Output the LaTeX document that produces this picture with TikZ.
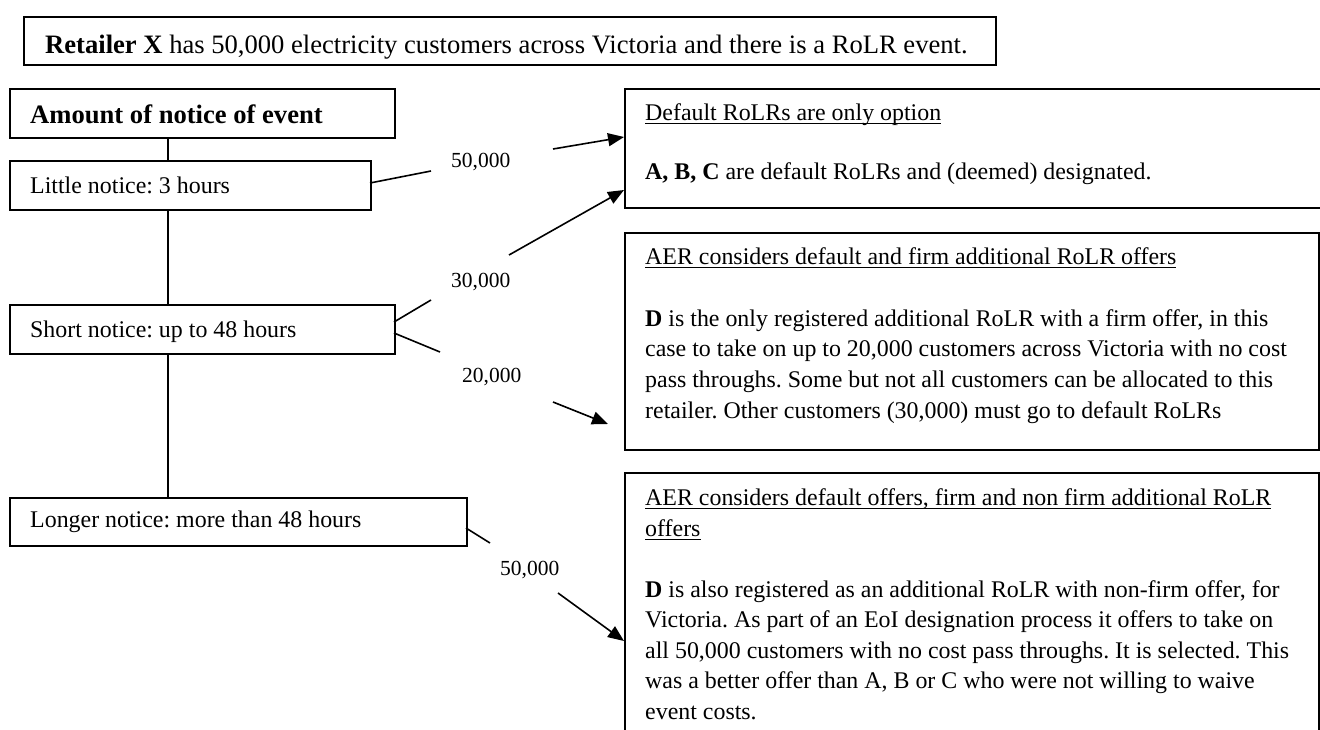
\documentclass[tikz,border=0pt]{standalone}
\usepackage{fontspec}
\setmainfont{Liberation Serif}
\usetikzlibrary{arrows.meta}
\frenchspacing
\newcommand\myul[1]{\setbox0\hbox{#1}\rlap{\rule[-4pt]{\wd0}{1.5pt}}\box0}
\begin{document}
\frenchspacing
\begin{tikzpicture}[x=1pt,y=-1pt,
  box/.style={draw, line width=1.6pt, inner sep=0pt, anchor=north west},
  txt/.style={anchor=base west, inner sep=0pt, font=\fontsize{23.9}{30.5}\selectfont\frenchspacing},
  big/.style={anchor=base west, inner sep=0pt, font=\fontsize{26.6}{32}\selectfont\frenchspacing},
  lbl/.style={anchor=base west, inner sep=0pt, font=\fontsize{21.5}{26}\selectfont},
  conn/.style={line width=1.6pt},
  arr/.style={line width=1.6pt, -{Triangle[length=16pt,width=13pt]}}]
\useasboundingbox (0,0) rectangle (1320,729);
\clip (0,0) rectangle (1320,729);
\fill[white] (0,0) rectangle (1320,729);

% top box
\node[box, minimum width=972pt, minimum height=48pt] (top) at (23,16) {};
\node[big] (toptxt) at (45,53) {\textbf{Retailer X} has 50,000 electricity customers across Victoria and there is a RoLR event.};

% left column
\node[box, minimum width=385pt, minimum height=49pt] (amount) at (9,88) {};
\node[big] (amounttxt) at (30,123) {\textbf{Amount of notice of event}};
\node[box, minimum width=361pt, minimum height=49pt] (little) at (9,160) {};
\node[txt] (littletxt) at (30,193) {Little notice: 3 hours};
\node[box, minimum width=385pt, minimum height=49pt] (short) at (9,304) {};
\node[txt] (shorttxt) at (30,337) {Short notice: up to 48 hours};
\node[box, minimum width=457pt, minimum height=48pt] (longer) at (9,497) {};
\node[txt] (longertxt) at (30,527) {Longer notice: more than 48 hours};

\draw[conn] (amount.south -| 168,0) -- (little.north -| 168,0);
\draw[conn] (little.south -| 168,0) -- (short.north -| 168,0);
\draw[conn] (short.south -| 168,0) -- (longer.north -| 168,0);

% right column
\node[box, minimum width=720pt, minimum height=119pt] (r1) at (624,88) {};
\node[txt] (r1h) at (645,120) {\myul{Default RoLRs are only option}};
\node[txt] (r1a) at (645,179) {\textbf{A, B, C} are default RoLRs and (deemed) designated.};

\node[box, minimum width=694pt, minimum height=217pt] (r2) at (624,232) {};
\node[txt] (r2h) at (645,264) {\myul{AER considers default and firm additional RoLR offers}};
\node[txt] (r2a) at (645,326) {\textbf{D} is the only registered additional RoLR with a firm offer, in this};
\node[txt] (r2b) at (645,356.5) {case to take on up to 20,000 customers across Victoria with no cost};
\node[txt] (r2c) at (645,387) {pass throughs. Some but not all customers can be allocated to this};
\node[txt] (r2d) at (645,418) {retailer. Other customers (30,000) must go to default RoLRs};

\node[box, minimum width=694pt, minimum height=300pt] (r3) at (624,472) {};
\node[txt] (r3h) at (645,505) {\myul{AER considers default offers, firm and non firm additional RoLR}};
\node[txt] (r3i) at (645,536) {\myul{offers}};
\node[txt] (r3a) at (645,597) {\textbf{D} is also registered as an additional RoLR with non-firm offer, for};
\node[txt] (r3b) at (645,627.5) {Victoria. As part of an EoI designation process it offers to take on};
\node[txt] (r3c) at (645,658) {all 50,000 customers with no cost pass throughs. It is selected. This};
\node[txt] (r3d) at (645,688.5) {was a better offer than A, B or C who were not willing to waive};
\node[txt] (r3e) at (645,719) {event costs.};

% connectors
\coordinate (l1s) at (370,183);
\coordinate (l1a) at (431,171);
\coordinate (l1b) at (553,149);
\coordinate (l1t) at (624,137);
\draw[conn] (l1s) -- (l1a);
\node[lbl] (lab1) at (451,167) {50,000};
\draw[arr] (l1b) -- (l1t);

\coordinate (s1s) at (394,322);
\coordinate (s1a) at (431,300);
\coordinate (s1b) at (509,255);
\coordinate (s1t) at (624,190);
\draw[conn] (s1s) -- (s1a);
\node[lbl] (lab2) at (451,287) {30,000};
\draw[arr] (s1b) -- (s1t);

\coordinate (s2s) at (394,333);
\coordinate (s2a) at (440,352);
\coordinate (s2b) at (553,402);
\coordinate (s2t) at (608,424);
\draw[conn] (s2s) -- (s2a);
\node[lbl] (lab3) at (462,382) {20,000};
\draw[arr] (s2b) -- (s2t);

\coordinate (g1s) at (466,528);
\coordinate (g1a) at (490,543);
\coordinate (g1b) at (558,593);
\coordinate (g1t) at (624,641);
\draw[conn] (g1s) -- (g1a);
\node[lbl] (lab4) at (500,575) {50,000};
\draw[arr] (g1b) -- (g1t);
\end{tikzpicture}
\end{document}
